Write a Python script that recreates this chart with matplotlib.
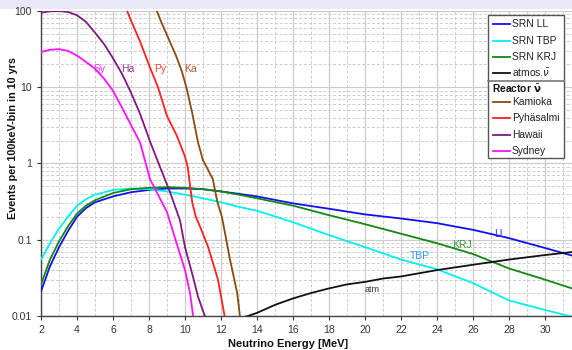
import matplotlib
matplotlib.use("Agg")
import matplotlib.pyplot as plt
from matplotlib.lines import Line2D
from matplotlib.patches import Rectangle
from matplotlib.ticker import LogLocator, NullFormatter, FixedLocator

plt.rcParams['font.family'] = ['Liberation Sans', 'DejaVu Sans']

# ---- data ----
syd_x = [2, 2.5, 3, 3.5, 4, 4.5, 5, 5.5, 6, 6.5, 7, 7.5, 8.06, 8.5, 9, 9.6, 10, 10.28, 10.45]
syd_y = [29, 31, 31.6, 30, 26, 21.5, 17.5, 13, 9, 5.4, 3.2, 1.9, 0.62, 0.39, 0.23, 0.08, 0.04, 0.02, 0.01]

haw_x = [2, 2.5, 3, 3.5, 4, 4.5, 5, 5.5, 6, 6.5, 7, 7.5, 8.06, 8.5, 9.17, 9.72, 10, 10.44, 10.72, 11.1]
haw_y = [95, 99, 100, 97, 88, 72, 52, 37, 24, 15, 8.5, 4.5, 1.94, 1.05, 0.42, 0.18, 0.08, 0.033, 0.018, 0.01]

pyh_x = [6.75, 7, 7.5, 8.06, 8.5, 9, 9.55, 10, 10.15, 10.4, 10.6, 10.83, 11.28, 11.55, 11.83, 12.2]
pyh_y = [105, 75, 40, 18, 10, 4.2, 2.3, 1.23, 0.9, 0.31, 0.2, 0.15, 0.081, 0.05, 0.03, 0.01]

kam_x = [8.4, 8.7, 9.17, 9.5, 9.83, 10.1, 10.4, 10.72, 11.0, 11.2, 11.55, 11.8, 12.05, 12.5, 12.9, 13.05]
kam_y = [105, 70, 39, 26, 16, 9.5, 4.6, 1.9, 1.1, 0.9, 0.62, 0.31, 0.2, 0.055, 0.02, 0.01]

srn_x = [2, 2.5, 3, 3.5, 4, 4.5, 5, 6, 7, 8, 9, 10, 11, 12, 13, 14, 16, 18, 20, 22, 24, 26, 28, 30, 31.5]
ll_y = [0.021, 0.045, 0.08, 0.13, 0.2, 0.26, 0.31, 0.37, 0.42, 0.45, 0.47, 0.47, 0.46, 0.43, 0.40, 0.37, 0.30, 0.255,
        0.215, 0.19, 0.165, 0.135, 0.105, 0.078, 0.062]
krj_y = [0.026, 0.055, 0.095, 0.15, 0.22, 0.28, 0.33, 0.41, 0.46, 0.48, 0.49, 0.48, 0.46, 0.43, 0.39, 0.35, 0.28,
         0.21, 0.16, 0.12, 0.09, 0.065, 0.042, 0.03, 0.023]
tbp_y = [0.055, 0.09, 0.14, 0.2, 0.28, 0.34, 0.39, 0.45, 0.47, 0.46, 0.43, 0.39, 0.35, 0.31, 0.27, 0.24, 0.17,
         0.115, 0.08, 0.055, 0.041, 0.027, 0.016, 0.012, 0.0098]

atm_x = [13.1, 13.5, 14, 15, 16, 17, 18, 19, 20, 21, 22, 24, 26, 28, 30, 31.5]
atm_y = [0.0095, 0.01, 0.011, 0.014, 0.017, 0.02, 0.023, 0.026, 0.028, 0.031, 0.033, 0.04, 0.047, 0.055, 0.063, 0.069]

x_ticks = list(range(2, 31, 2))

# ---- colours ----
c_ll, c_tbp, c_krj, c_atm = '#1010ee', '#00f0f0', '#118811', '#111111'
c_kam, c_pyh, c_haw, c_syd = '#8a4a10', '#ff2020', '#801880', '#ff10ff'

fig = plt.figure(figsize=(5.72, 3.5), dpi=100)
fig.patch.set_facecolor('white')
fig.add_artist(Rectangle((0, 1 - 9 / 350), 1, 9 / 350, transform=fig.transFigure,
                         facecolor='#e8e8f6', edgecolor='none', zorder=0))

ax = fig.add_axes([41 / 572, 1 - 316 / 350, 531 / 572, 305 / 350])
ax.set_yscale('log')
ax.set_xlim(2, 31.5)
ax.set_ylim(0.01, 100)

lw = 1.3
ax.plot(srn_x, ll_y, color=c_ll, lw=lw, zorder=3)
ax.plot(srn_x, tbp_y, color=c_tbp, lw=lw, zorder=3)
ax.plot(srn_x, krj_y, color=c_krj, lw=lw, zorder=3)
ax.plot(atm_x, atm_y, color=c_atm, lw=lw, zorder=3)
ax.plot(kam_x, kam_y, color=c_kam, lw=lw, zorder=3)
ax.plot(pyh_x, pyh_y, color=c_pyh, lw=lw, zorder=3)
ax.plot(haw_x, haw_y, color=c_haw, lw=lw, zorder=3)
ax.plot(syd_x, syd_y, color=c_syd, lw=lw, zorder=3)

# curve labels
lf = 7.5
ax.text(5.28, 17.4, 'Sy', color='#ee33ee', fontsize=lf, ha='center', va='center')
ax.text(6.83, 17.4, 'Ha', color='#993399', fontsize=lf, ha='center', va='center')
ax.text(8.6, 17.4, 'Py', color='#ff4444', fontsize=lf, ha='center', va='center')
ax.text(10.3, 17.4, 'Ka', color='#b06028', fontsize=lf, ha='center', va='center')
ax.text(27.5, 0.12, 'LL', color='#3333ee', fontsize=lf, ha='center', va='center')
ax.text(25.4, 0.085, 'KRJ', color='#339933', fontsize=lf, ha='center', va='center')
ax.text(23.05, 0.062, 'TBP', color='#3399ff', fontsize=lf, ha='center', va='center')
ax.text(20.4, 0.0225, 'atm', color='#333333', fontsize=6.5, ha='center', va='center')

# grid
ax.xaxis.set_major_locator(FixedLocator(x_ticks))
ax.xaxis.set_minor_locator(FixedLocator(list(range(3, 32, 2))))
ax.yaxis.set_minor_locator(LogLocator(base=10, subs=range(2, 10), numticks=20))
ax.yaxis.set_minor_formatter(NullFormatter())
ax.set_yticks([0.01, 0.1, 1, 10, 100])
ax.set_yticklabels(['0.01', '0.1', '1', '10', '100'])
ax.grid(True, which='major', color='#cccccc', lw=0.9, ls='-', zorder=0)
ax.grid(True, which='minor', color='#cccccc', lw=0.7, ls=(0, (3, 2)), zorder=0)
ax.set_axisbelow(True)

ax.tick_params(axis='both', which='major', labelsize=7.5, colors='#333333', length=3, width=0.8)
ax.tick_params(axis='both', which='minor', length=0)
for s in ['top', 'right']:
    ax.spines[s].set_visible(False)
for s in ['left', 'bottom']:
    ax.spines[s].set_color('#444444')
    ax.spines[s].set_linewidth(1.0)


def fx(px):
    return px / 572


def fy(py):
    return 1 - py / 350


fig.text(fx(288), fy(344), 'Neutrino Energy [MeV]', fontsize=8, fontweight='bold', color='#111111',
         ha='center', va='center')
fig.text(fx(13), fy(138), 'Events per 100keV-bin in 10 yrs', fontsize=7.8, fontweight='bold', color='#111111',
         ha='center', va='center', rotation=90)

# legend drawn manually (figure pixel coordinates)
fig.add_artist(Rectangle((fx(488), fy(158)), fx(564) - fx(488), fy(15) - fy(158), transform=fig.transFigure,
                         facecolor='white', edgecolor='#555555', lw=1.0, zorder=5))
fig.add_artist(Line2D([fx(488), fx(564)], [fy(81), fy(81)], transform=fig.transFigure,
                      color='#777777', lw=1.2, zorder=6))
entries_top = [('SRN LL', c_ll, 24), ('SRN TBP', c_tbp, 41), ('SRN KRJ', c_krj, 57),
               ('atmos.$\\bar{\\nu}$', c_atm, 73)]
entries_bot = [('Kamioka', c_kam, 102), ('Pyh\u00e4salmi', c_pyh, 118), ('Hawaii', c_haw, 135), ('Sydney', c_syd, 151)]
for lab, col, py in entries_top + entries_bot:
    fig.add_artist(Line2D([fx(493), fx(510)], [fy(py), fy(py)], transform=fig.transFigure,
                          color=col, lw=1.3, zorder=6))
    fig.text(fx(512), fy(py), lab, fontsize=7.4, color='#222222', ha='left', va='center', zorder=7)
fig.text(fx(492), fy(89), 'Reactor $\\bar{\\mathbf{\\nu}}$', fontsize=7.4, fontweight='bold', color='#111111',
         ha='left', va='center', zorder=7)

fig.savefig('out.png', dpi=100)
